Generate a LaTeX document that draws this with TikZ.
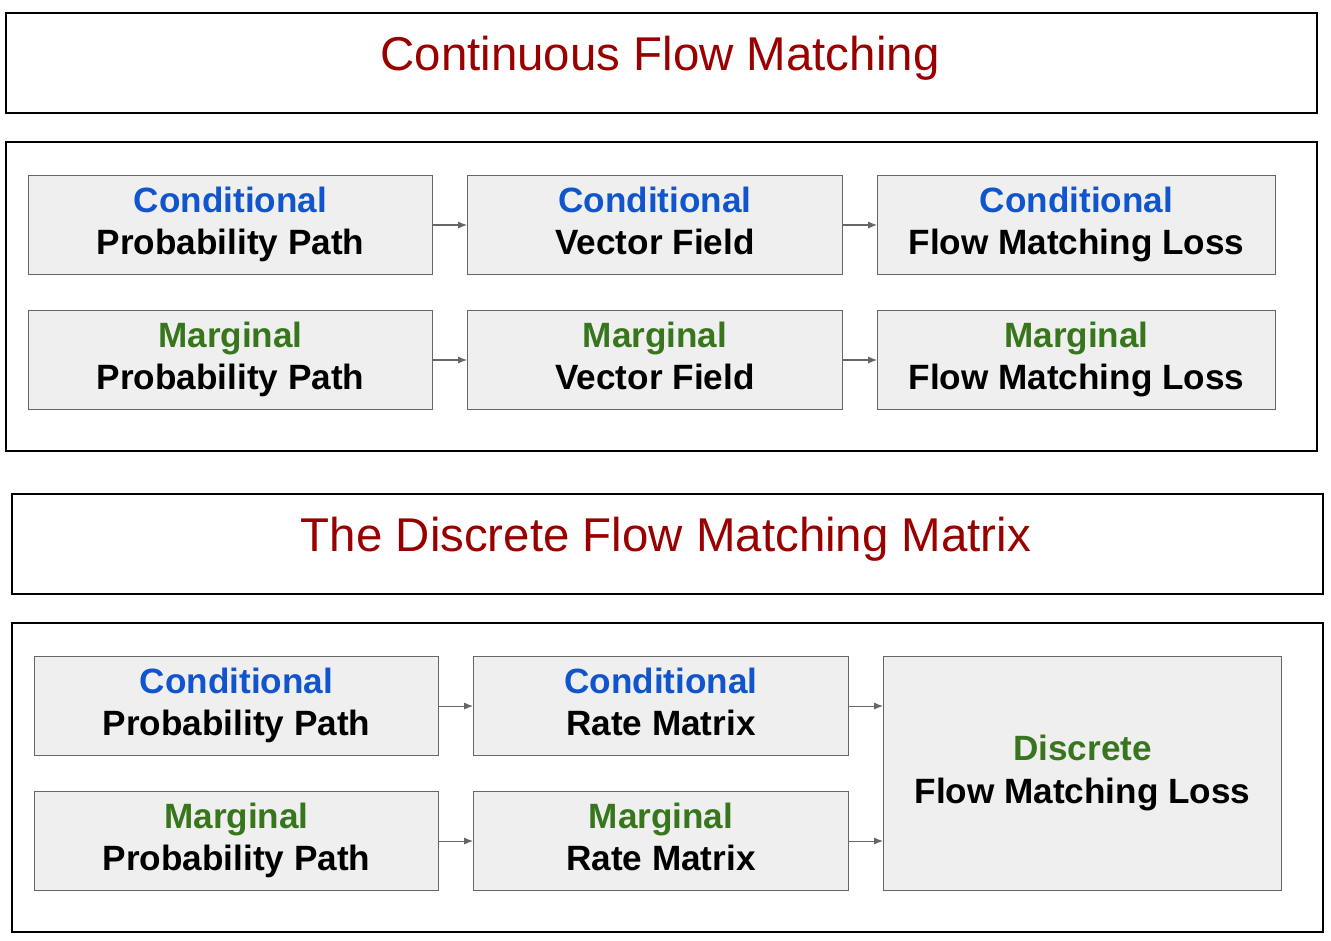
\documentclass[tikz,border=0pt]{standalone}
\usepackage{fontspec}
\setmainfont{Liberation Sans}
\usetikzlibrary{arrows.meta}
\definecolor{TitleClr}{HTML}{990000}
\definecolor{CondClr}{HTML}{1155CC}
\definecolor{MargClr}{HTML}{38761D}
\definecolor{BoxClr}{HTML}{EFEFEF}
\definecolor{EdgeClr}{HTML}{666666}

\tikzset{
  frame/.style={draw=black,line width=1.2pt,anchor=north west,inner sep=0pt},
  title/.style={text=TitleClr,font=\fontsize{27}{32}\selectfont},
  stage/.style={draw=EdgeClr,fill=BoxClr,line width=0.6pt,anchor=north west,inner sep=0pt,
    align=center,font=\fontsize{20}{24}\selectfont\bfseries},
  link/.style={draw=EdgeClr,line width=0.6pt,-{Latex[length=5pt,width=4pt]}}
}
\newcommand{\cond}{\textcolor{CondClr}{Conditional}\strut}
\newcommand{\marg}{\textcolor{MargClr}{Marginal}\strut}

\begin{document}
\begin{tikzpicture}[x=0.02cm,y=-0.02cm]
\useasboundingbox (0,0) rectangle (1331,940);

% continuous part
\node[frame,minimum width=26.22cm,minimum height=2cm] (top1) at (5,12) {};
\node[title] at (660,58) {Continuous Flow Matching};
\node[frame,minimum width=26.22cm,minimum height=6.18cm] (body1) at (5,141) {};

\node[stage,minimum width=8.08cm,minimum height=1.98cm] (cpp) at (28,175) {\cond\\Probability Path\strut};
\node[stage,minimum width=7.5cm,minimum height=1.98cm] (cvf) at (467,175) {\cond\\Vector Field\strut};
\node[stage,minimum width=7.96cm,minimum height=1.98cm] (cfm) at (877,175) {\cond\\Flow Matching Loss\strut};
\node[stage,minimum width=8.08cm,minimum height=1.98cm] (mpp) at (28,310) {\marg\\Probability Path\strut};
\node[stage,minimum width=7.5cm,minimum height=1.98cm] (mvf) at (467,310) {\marg\\Vector Field\strut};
\node[stage,minimum width=7.96cm,minimum height=1.98cm] (mfm) at (877,310) {\marg\\Flow Matching Loss\strut};

\draw[link] (cpp) -- (cvf);
\draw[link] (cvf) -- (cfm);
\draw[link] (mpp) -- (mvf);
\draw[link] (mvf) -- (mfm);

% discrete part
\node[frame,minimum width=26.22cm,minimum height=2cm] (top2) at (11,493) {};
\node[title] at (666,539) {The Discrete Flow Matching Matrix};
\node[frame,minimum width=26.22cm,minimum height=6.18cm] (body2) at (11,622) {};

\node[stage,minimum width=8.08cm,minimum height=1.98cm] (dcpp) at (34,656) {\cond\\Probability Path\strut};
\node[stage,minimum width=7.5cm,minimum height=1.98cm] (crm) at (473,656) {\cond\\Rate Matrix\strut};
\node[stage,minimum width=8.08cm,minimum height=1.98cm] (dmpp) at (34,791) {\marg\\Probability Path\strut};
\node[stage,minimum width=7.5cm,minimum height=1.98cm] (mrm) at (473,791) {\marg\\Rate Matrix\strut};
\node[stage,minimum width=7.96cm,minimum height=4.68cm] (dfm) at (883,656) {\textcolor{MargClr}{Discrete}\strut\\Flow Matching Loss\strut};

\draw[link] (dcpp) -- (crm);
\draw[link] (dmpp) -- (mrm);
\draw[link] (crm.east) -- (crm.east -| dfm.west);
\draw[link] (mrm.east) -- (mrm.east -| dfm.west);
\end{tikzpicture}
\end{document}
